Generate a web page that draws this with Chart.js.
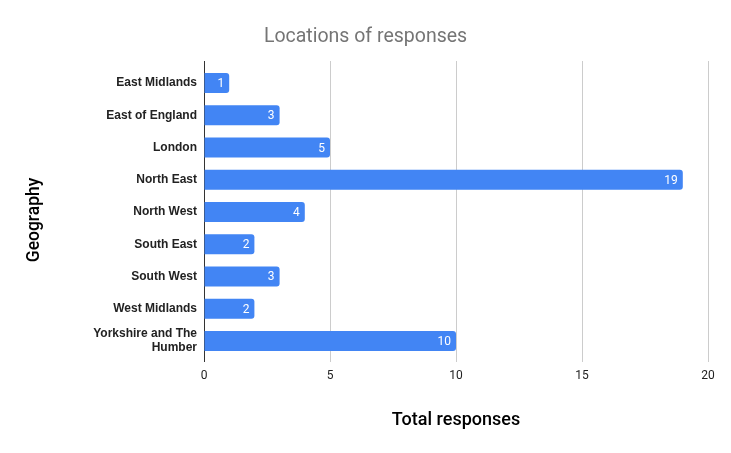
<!DOCTYPE html>
<html>
<head>
<meta charset="utf-8">
<script src="https://cdn.jsdelivr.net/npm/chart.js@4.4.1/dist/chart.umd.min.js"></script>
<style>
html,body{margin:0;padding:0;background:#fff;}
#c{display:block;}
</style>
</head>
<body>
<canvas id="c" width="731" height="453"></canvas>
<script>
const categories = ['East Midlands','East of England','London','North East','North West','South East','South West','West Midlands',['Yorkshire and The','Humber']];
const responses = [1,3,5,19,4,2,3,2,10];
const xTicks = [0,5,10,15,20];

const chartTitle = 'Locations of responses';
const xTitle = 'Total responses';
const yTitle = 'Geography';

const extras = {
  id: 'extras',
  beforeDatasetsDraw(chart) {
    const ctx = chart.ctx, a = chart.chartArea, xs = chart.scales.x;
    ctx.save();
    ctx.lineWidth = 1;
    ctx.strokeStyle = '#cccccc';
    xs.ticks.forEach(t => {
      const px = Math.round(xs.getPixelForValue(t.value)) + 0.5;
      ctx.beginPath(); ctx.moveTo(px, a.top - 6); ctx.lineTo(px, a.top); ctx.stroke();
    });
    const x0 = Math.round(xs.getPixelForValue(0)) + 0.5;
    ctx.strokeStyle = '#333333';
    ctx.beginPath(); ctx.moveTo(x0, a.top - 6); ctx.lineTo(x0, a.bottom + 5); ctx.stroke();
    ctx.restore();
  },
  afterDatasetsDraw(chart) {
    const ctx = chart.ctx;
    const meta = chart.getDatasetMeta(0);
    ctx.save();
    ctx.font = '12px Roboto';
    ctx.fillStyle = '#ffffff';
    ctx.textAlign = 'right';
    ctx.textBaseline = 'middle';
    meta.data.forEach((el, i) => {
      ctx.fillText(String(chart.data.datasets[0].data[i]), el.x - 5, el.y + 1);
    });
    // chart title
    ctx.fillStyle = '#757575';
    ctx.font = '19.5px Roboto';
    ctx.textAlign = 'center';
    ctx.textBaseline = 'alphabetic';
    ctx.fillText(chartTitle, chart.width / 2, 41.5);
    // y axis title
    ctx.fillStyle = '#000000';
    ctx.font = '500 17.5px Roboto';
    ctx.textAlign = 'center';
    ctx.textBaseline = 'middle';
    ctx.translate(35, 220);
    ctx.rotate(-Math.PI / 2);
    ctx.fillText(yTitle, 0, 0);
    ctx.restore();
  }
};

new Chart(document.getElementById('c'), {
  type: 'bar',
  data: {
    labels: categories,
    datasets: [{
      data: responses,
      backgroundColor: '#4285f4',
      borderRadius: 3,
      borderSkipped: 'start',
      barPercentage: 0.62,
      categoryPercentage: 1
    }]
  },
  options: {
    indexAxis: 'y',
    responsive: false,
    animation: false,
    devicePixelRatio: 1,
    layout: { padding: { left: 0, right: 23, top: 67, bottom: 0 } },
    plugins: {
      legend: { display: false },
      tooltip: { enabled: false },
      title: { display: false }
    },
    scales: {
      x: {
        type: 'linear',
        min: 0,
        max: 20,
        afterBuildTicks(scale) { scale.ticks = xTicks.map(v => ({ value: v })); },
        ticks: {
          color: '#222222',
          font: { family: 'Roboto', size: 12 },
          padding: 7
        },
        grid: { color: '#cccccc', tickLength: 5, drawTicks: true },
        border: { display: false },
        title: {
          display: true,
          text: xTitle,
          color: '#000000',
          font: { family: 'Roboto', size: 18, weight: '500', lineHeight: 1.2 },
          padding: { top: 21.4, bottom: 21.4 }
        },
        afterFit(scale) { scale.height = 96; }
      },
      y: {
        grid: { display: false, drawTicks: false },
        border: { display: true, color: '#333333', width: 1 },
        ticks: {
          color: '#222222',
          font: { family: 'Liberation Sans', size: 12, weight: 'bold', lineHeight: 1.17 },
          padding: 7
        },
        afterFit(scale) { scale.width = 204; }
      }
    }
  },
  plugins: [extras]
});
</script>
</body>
</html>
